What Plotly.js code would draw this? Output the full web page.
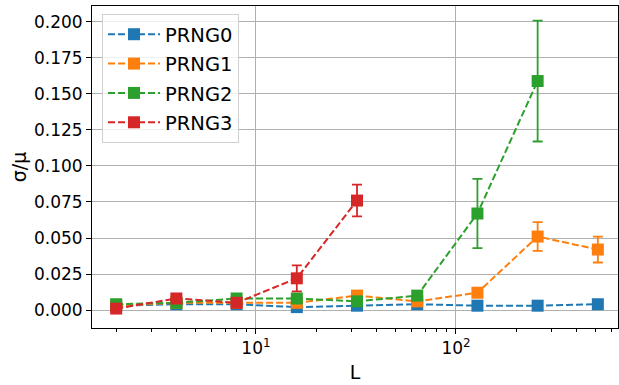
<!DOCTYPE html>
<html><head><meta charset="utf-8">
<script src="https://cdn.plot.ly/plotly-3.0.1.min.js"></script>
<style>html,body{margin:0;padding:0;background:#fff}</style>
</head><body><div id="chart" style="width:619px;height:385px"></div>
<script>
const L = [2, 4, 8, 16, 32, 64, 128, 256, 512];
const names = ['PRNG0', 'PRNG1', 'PRNG2', 'PRNG3'];
const colors = ['#1f77b4', '#ff7f0e', '#2ca02c', '#d62728'];

const prng0 = [0.003, 0.004, 0.004, 0.002, 0.003, 0.004, 0.003, 0.003, 0.004];
const prng0Err = [0.001, 0.001, 0.001, 0.001, 0.001, 0.001, 0.001, 0.001, 0.001];
const prng1 = [0.003, 0.005, 0.005, 0.005, 0.010, 0.006, 0.012, 0.051, 0.042];
const prng1Err = [0.001, 0.001, 0.001, 0.001, 0.002, 0.001, 0.002, 0.010, 0.009];
const L2 = [2, 4, 8, 16, 32, 64, 128, 256];
const prng2 = [0.004, 0.005, 0.008, 0.008, 0.006, 0.010, 0.067, 0.159];
const prng2Err = [0.002, 0.002, 0.002, 0.003, 0.002, 0.002, 0.024, 0.042];
const L3 = [2, 4, 8, 16, 32];
const prng3 = [0.001, 0.008, 0.005, 0.022, 0.076];
const prng3Err = [0.001, 0.002, 0.001, 0.009, 0.011];

const xs = [L, L, L2, L3];
const ys = [prng0, prng1, prng2, prng3];
const es = [prng0Err, prng1Err, prng2Err, prng3Err];

const traces = names.map((n, i) => ({
  x: xs[i], y: ys[i], name: n, type: 'scatter', mode: 'lines+markers',
  legendgroup: 'g' + i,
  line: {color: colors[i], width: 2, dash: '7px,3px'},
  marker: {color: colors[i], symbol: 'square', size: 12},
  error_y: {type: 'data', array: es[i], visible: true, color: colors[i], thickness: 1.8, width: 5}
}));

const font = {family: 'DejaVu Sans, sans-serif', color: '#000'};
const layout = {
  width: 619, height: 385,
  margin: {l: 92, r: 1, t: 6, b: 57},
  paper_bgcolor: '#fff', plot_bgcolor: '#fff',
  font: Object.assign({size: 16}, font),
  showlegend: true,
  legend: {x: 0.019, y: 0.975, xanchor: 'left', yanchor: 'top',
    bgcolor: 'rgba(255,255,255,0.8)', bordercolor: '#d0d0d0', borderwidth: 1,
    font: Object.assign({size: 19.5}, font), itemwidth: 52,
    traceorder: 'grouped', tracegroupgap: 1},
  xaxis: {
    type: 'log', range: [Math.log10(1.514), Math.log10(645.7)],
    tickvals: [10, 100], ticktext: ['10<sup>1</sup>', '10<sup>2</sup>'],
    ticks: 'outside', ticklen: 5, tickcolor: '#000',
    showgrid: true, gridcolor: '#b0b0b0', gridwidth: 1,
    showline: true, linecolor: '#000', linewidth: 1, mirror: true,
    zeroline: false,
    tickfont: Object.assign({size: 17}, font),
    minor: {ticks: 'outside', ticklen: 3, tickcolor: '#000', showgrid: false,
      tickvals: [2,3,4,5,6,7,8,9,20,30,40,50,60,70,80,90,200,300,400,500,600]},
    title: {text: 'L', font: Object.assign({size: 19}, font), standoff: 8}
  },
  yaxis: {
    range: [-0.0125, 0.2111],
    tickvals: [0, 0.025, 0.05, 0.075, 0.1, 0.125, 0.15, 0.175, 0.2],
    ticktext: ['0.000', '0.025', '0.050', '0.075', '0.100', '0.125', '0.150', '0.175', '0.200'],
    ticks: 'outside', ticklen: 5, tickcolor: '#000',
    showgrid: true, gridcolor: '#b0b0b0', gridwidth: 1,
    showline: true, linecolor: '#000', linewidth: 1, mirror: true,
    zeroline: false,
    tickfont: Object.assign({size: 17}, font),
    title: {text: 'σ/μ', font: Object.assign({size: 19}, font), standoff: 2}
  }
};
Plotly.newPlot('chart', traces, layout, {displayModeBar: false, staticPlot: true});
</script></body></html>
